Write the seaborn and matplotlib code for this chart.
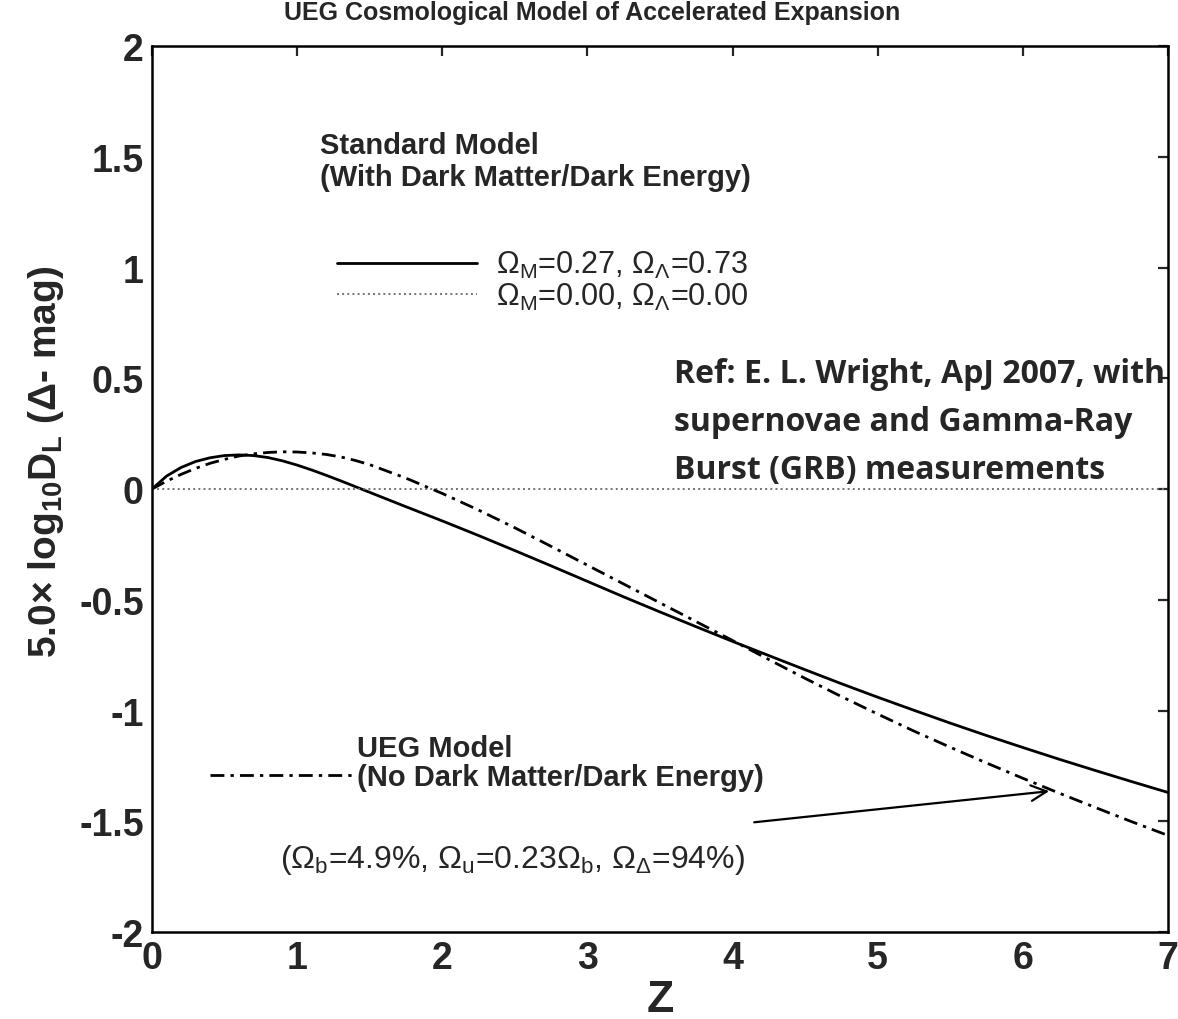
import matplotlib
matplotlib.use("Agg")
import matplotlib.pyplot as plt
import seaborn as sns

# curva del modelo estandar (Omega_M=0.27, Omega_L=0.73)
z_std = [0, 0.1, 0.2, 0.3, 0.4, 0.5, 0.6, 0.7, 0.8, 0.9, 1.0, 1.1, 1.2, 1.3, 1.4, 1.5,
         1.75, 2.0, 2.25, 2.5, 2.75, 3.0, 3.25, 3.5, 3.75, 4.0, 4.25, 4.5, 4.75, 5.0,
         5.25, 5.5, 5.75, 6.0, 6.25, 6.5, 6.75, 7.0]
dm_std = [0, 0.058, 0.097, 0.124, 0.141, 0.151, 0.154, 0.151, 0.142, 0.127, 0.108, 0.086, 0.062, 0.037, 0.011, -0.015,
          -0.08, -0.144, -0.210, -0.278, -0.347, -0.417, -0.487, -0.555, -0.622, -0.688, -0.752, -0.816, -0.879, -0.94,
          -0.999, -1.057, -1.113, -1.167, -1.22, -1.271, -1.321, -1.37]

# curva del modelo UEG
z_ueg = [0, 0.1, 0.2, 0.3, 0.4, 0.5, 0.6, 0.7, 0.8, 0.9, 1.0, 1.1, 1.2, 1.3, 1.4, 1.5,
         1.75, 2.0, 2.25, 2.5, 2.75, 3.0, 3.25, 3.5, 3.75, 4.0, 4.25, 4.5, 4.75, 5.0,
         5.25, 5.5, 5.75, 6.0, 6.25, 6.5, 6.75, 7.0]
dm_ueg = [0, 0.035, 0.066, 0.093, 0.116, 0.134, 0.149, 0.159, 0.165, 0.168, 0.167, 0.163, 0.156, 0.145, 0.129, 0.110,
          0.049, -0.020, -0.095, -0.175, -0.259, -0.344, -0.429, -0.514, -0.599, -0.684, -0.770, -0.855, -0.937, -1.016,
          -1.093, -1.166, -1.237, -1.306, -1.373, -1.438, -1.502, -1.564]

# universo vacio (Omega_M=0, Omega_L=0)
z_vacio = [0, 7]
dm_vacio = [0, 0]

x_ticks = [0, 1, 2, 3, 4, 5, 6, 7]
x_labels = ["0", "1", "2", "3", "4", "5", "6", "7"]
y_ticks = [-2, -1.5, -1, -0.5, 0, 0.5, 1, 1.5, 2]
y_labels = ["-2", "-1.5", "-1", "-0.5", "0", "0.5", "1", "1.5", "2"]

sns.set_style("white")
plt.rcParams["font.family"] = ["Liberation Sans", "DejaVu Sans"]
plt.rcParams["mathtext.default"] = "regular"
plt.rcParams["axes.unicode_minus"] = False

fig = plt.figure(figsize=(11.78, 10.2), dpi=100)
ax = fig.add_axes([0.129, 0.0853, 0.8625, 0.8686])

sns.lineplot(x=z_std, y=dm_std, ax=ax, color="black", linewidth=2.0, label="std")
sns.lineplot(x=z_vacio, y=dm_vacio, ax=ax, color="0.45", linewidth=1.4, linestyle=":", label="vacio")
sns.lineplot(x=z_ueg, y=dm_ueg, ax=ax, color="black", linewidth=2.0,
             linestyle=(0, (5, 2.2, 1.2, 2.2)), label="ueg")
lineas = ax.get_lines()

ax.set_xlim(0, 7)
ax.set_ylim(-2, 2)
ax.set_xticks(x_ticks)
ax.set_xticklabels(x_labels)
ax.set_yticks(y_ticks)
ax.set_yticklabels(y_labels)
ax.tick_params(direction="in", length=7, width=1.6, top=True, right=True,
               labelsize=27, pad=6)
for lab in ax.get_xticklabels() + ax.get_yticklabels():
    lab.set_fontweight("bold")
for sp in ax.spines.values():
    sp.set_linewidth(1.8)
    sp.set_color("black")

ax.set_xlabel("Z", fontsize=32, fontweight="bold", labelpad=2)
ax.set_ylabel("5.0× log$_{10}$D$_L$ (Δ- mag)", fontsize=28, fontweight="bold")
ax.yaxis.set_label_coords(-0.085, 0.532)

fig.text(592 / 1178, 1 - 13 / 1020, "UEG Cosmological Model of Accelerated Expansion",
         ha="center", va="center", fontsize=18, fontweight="bold")

# bloque del modelo estandar
ax.text(1.158, 1.481, "Standard Model\n(With Dark Matter/Dark Energy)",
        ha="left", va="center", fontsize=21, fontweight="bold", linespacing=1.15)
leg1 = ax.legend([lineas[0], lineas[1]],
                 ["$\\Omega_M$=0.27, $\\Omega_\\Lambda$=0.73", "$\\Omega_M$=0.00, $\\Omega_\\Lambda$=0.00"],
                 loc="center left", bbox_to_anchor=(0.182, 0.735), frameon=False,
                 fontsize=22, handlelength=4.6, handletextpad=0.62, labelspacing=0.02,
                 borderpad=0, borderaxespad=0)
ax.add_artist(leg1)

# referencia
ax.text(3.60, 0.307, "Ref: E. L. Wright, ApJ 2007, with\nsupernovae and Gamma-Ray\nBurst (GRB) measurements",
        ha="left", va="center", fontsize=23, fontweight="bold", family=["Open Sans", "DejaVu Sans"],
        linespacing=1.6)

# bloque del modelo UEG
ax.text(1.413, -1.169, "UEG Model", ha="left", va="center", fontsize=21, fontweight="bold")
leg2 = ax.legend([lineas[2]], ["(No Dark Matter/Dark Energy)"],
                 loc="center left", bbox_to_anchor=(0.057, 0.175), frameon=False,
                 prop={"size": 21, "weight": "bold"}, handlelength=4.86, handletextpad=0.17,
                 borderpad=0, borderaxespad=0)

ax.text(0.882, -1.670, "($\\Omega_b$=4.9%, $\\Omega_u$=0.23$\\Omega_b$, $\\Omega_\\Delta$=94%)",
        ha="left", va="center", fontsize=23)

ax.annotate("", xy=(6.2, -1.363), xytext=(4.13, -1.506),
            arrowprops=dict(arrowstyle="->", color="black", lw=1.6, mutation_scale=28))

fig.savefig("out.png", dpi=100)
